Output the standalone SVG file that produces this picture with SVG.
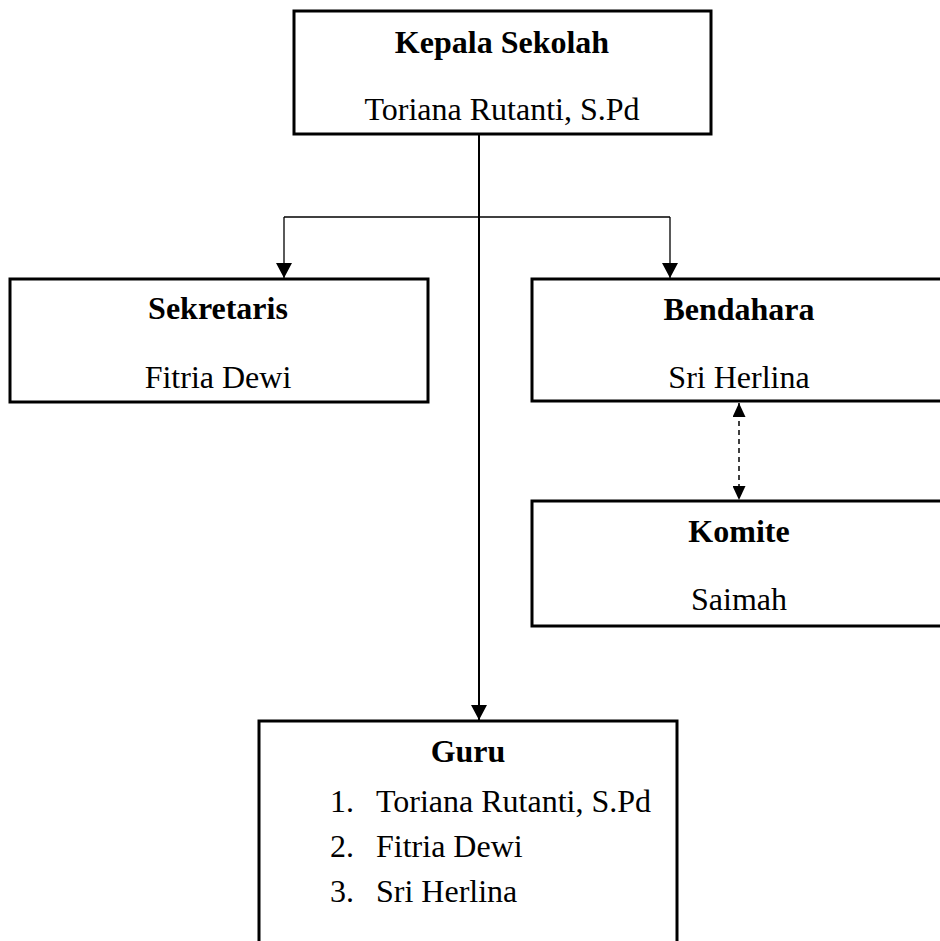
<svg xmlns="http://www.w3.org/2000/svg" width="940" height="941" viewBox="0 0 940 941">
<style>
.box{fill:#fff;stroke:#000;stroke-width:3}
.t{font-family:"Liberation Serif","Times New Roman",serif;font-size:32px;fill:#000}
.b{font-weight:bold}
.c{text-anchor:middle}
.ln{fill:none;stroke:#000;stroke-width:2}
.thin{fill:none;stroke:#000;stroke-width:1.3}
.dash{fill:none;stroke:#000;stroke-width:1.5;stroke-dasharray:5 4}
</style>
<defs>
<marker id="ah" markerUnits="userSpaceOnUse" markerWidth="16" markerHeight="16" viewBox="0 0 16 16" refX="15" refY="8" orient="auto-start-reverse">
<path d="M0,0 L15,8 L0,16 Z" fill="#000"/>
</marker>
<marker id="ahs" markerUnits="userSpaceOnUse" markerWidth="15" markerHeight="13" viewBox="0 0 15 13" refX="14" refY="6.5" orient="auto-start-reverse">
<path d="M0,0 L14,6.5 L0,13 Z" fill="#000"/>
</marker>
</defs>
<g id="connectors">
<path class="ln" d="M479,134 V720" marker-end="url(#ah)"/>
<path class="thin" d="M284,217 H670"/>
<path class="thin" d="M284,217 V278" marker-end="url(#ah)"/>
<path class="thin" d="M670,217 V278" marker-end="url(#ah)"/>
<path class="dash" d="M739,403 V500" marker-start="url(#ahs)" marker-end="url(#ahs)"/>
</g>
<g id="kepala">
<rect class="box" x="294" y="11" width="417" height="123"/>
<text class="t b c" x="502" y="53">Kepala Sekolah</text>
<text class="t c" x="502" y="120">Toriana Rutanti, S.Pd</text>
</g>
<g id="sekretaris">
<rect class="box" x="10" y="279" width="418" height="123"/>
<text class="t b c" x="218" y="319">Sekretaris</text>
<text class="t c" x="218" y="388">Fitria Dewi</text>
</g>
<g id="bendahara">
<rect class="box" x="532" y="279" width="418" height="122"/>
<text class="t b c" x="739" y="320">Bendahara</text>
<text class="t c" x="739" y="388">Sri Herlina</text>
</g>
<g id="komite">
<rect class="box" x="532" y="501" width="418" height="125"/>
<text class="t b c" x="739" y="542">Komite</text>
<text class="t c" x="739" y="610">Saimah</text>
</g>
<g id="guru">
<rect class="box" x="259" y="721" width="418" height="240"/>
<text class="t b c" x="468" y="762">Guru</text>
<text class="t" x="330" y="812">1.</text>
<text class="t" x="376" y="812">Toriana Rutanti, S.Pd</text>
<text class="t" x="330" y="857">2.</text>
<text class="t" x="376" y="857">Fitria Dewi</text>
<text class="t" x="330" y="902">3.</text>
<text class="t" x="376" y="902">Sri Herlina</text>
</g>
</svg>
